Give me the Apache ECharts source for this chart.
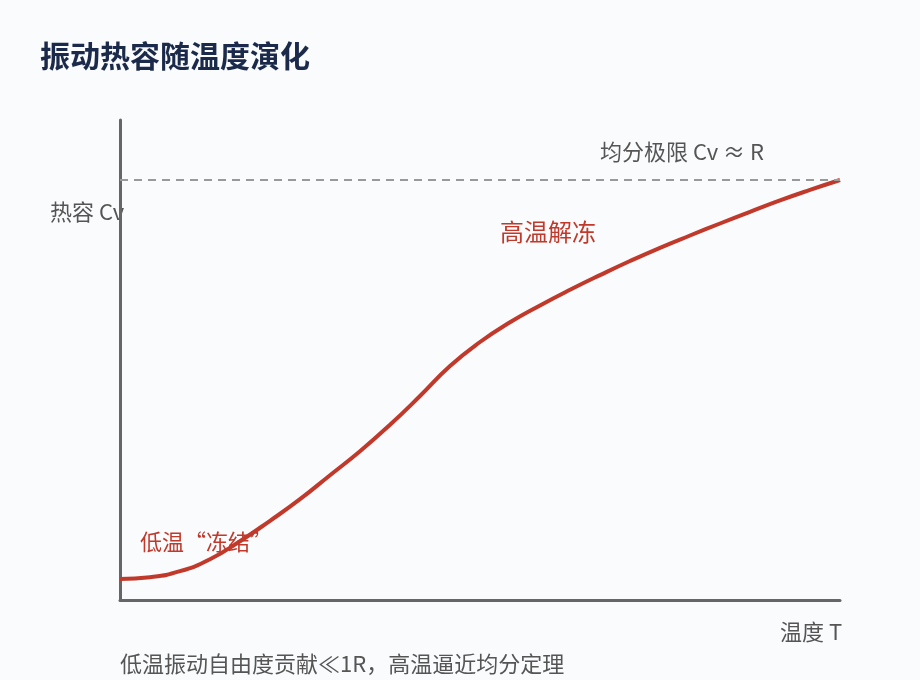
<!DOCTYPE html>
<html>
<head>
<meta charset="utf-8">
<script src="https://cdn.jsdelivr.net/npm/echarts@6/dist/echarts.min.js"></script>
<style>
html,body{margin:0;padding:0;background:#f9fbfd;}
#chart{width:920px;height:680px;}
</style>
</head>
<body>
<div id="chart"></div>
<script>
// Temperature (arbitrary units) and vibrational heat capacity (arbitrary units, R = 7)
const temperature = [0, 0.5, 1, 1.5, 2, 2.5, 3, 3.5, 4, 4.5, 5, 5.5, 6, 6.5, 7, 7.5, 8, 8.5, 9, 9.5, 10, 10.5, 11, 11.5, 12];
const heatCapacity = [0.35, 0.38, 0.48, 0.68, 0.98, 1.32, 1.68, 2.08, 2.48, 2.92, 3.40, 3.90, 4.30, 4.63, 4.91, 5.17, 5.415, 5.65, 5.87, 6.075, 6.275, 6.47, 6.66, 6.835, 7.0];
const limitR = 7;
const xMax = 12;
const yMax = 8;

const titleText = '振动热容随温度演化';
const yAxisLabel = '热容 Cv';
const xAxisLabel = '温度 T';
const limitLabel = '均分极限 Cv ≈ R';
const highLabel = '高温解冻';
const lowLabel = '低温“冻结”';
const footnote = '低温振动自由度贡献≪1R，高温逼近均分定理';

const FONT = '"Noto Sans CJK SC", "Noto Sans", sans-serif';
const GRAY = '#555555';
const RED = '#c0392b';

const chart = echarts.init(document.getElementById('chart'));
const seriesData = temperature.map((t, i) => [t, heatCapacity[i]]);

function txt(x, y, text, size, color, weight) {
  return {
    type: 'text', left: x, top: y - size * 0.55,
    style: { text: text, fontSize: size, fontFamily: FONT, fill: color, fontWeight: weight || 'normal' }
  };
}

chart.setOption({
  backgroundColor: '#f9fbfd',
  animation: false,
  grid: { left: 120, right: 80, top: 120, bottom: 80 },
  xAxis: {
    type: 'value', min: 0, max: xMax,
    axisLine: { show: true, onZero: true, lineStyle: { color: '#666666', width: 3 } },
    axisTick: { show: false }, axisLabel: { show: false }, splitLine: { show: false }
  },
  yAxis: {
    type: 'value', min: 0, max: yMax,
    axisLine: { show: true, lineStyle: { color: '#666666', width: 3 } },
    axisTick: { show: false }, axisLabel: { show: false }, splitLine: { show: false }
  },
  series: [{
    type: 'line',
    data: seriesData,
    smooth: 0.5,
    symbol: 'none',
    lineStyle: { color: RED, width: 4 },
    markLine: {
      silent: true, symbol: 'none', label: { show: false },
      lineStyle: { color: '#999999', width: 2, type: [8, 6] },
      data: [{ yAxis: limitR }]
    },
    z: 3
  }],
  graphic: [
    txt(40, 57, titleText, 30, '#1b2a4a', 'bold'),
    txt(50, 213, yAxisLabel, 22, GRAY),
    txt(600, 153, limitLabel, 22, GRAY),
    txt(500, 233, highLabel, 24, RED),
    txt(140, 543, lowLabel, 22, RED),
    txt(780, 633, xAxisLabel, 22, GRAY),
    txt(120, 665, footnote, 22, GRAY)
  ]
});
</script>
</body>
</html>
